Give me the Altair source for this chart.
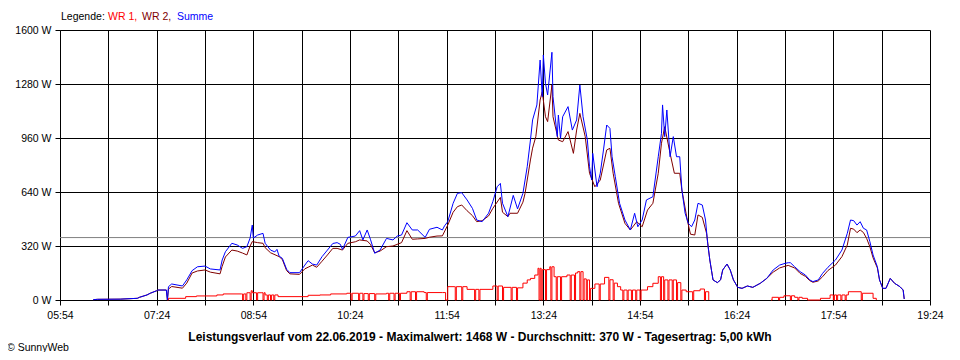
import altair as alt
import pandas as pd

FONT = "Liberation Sans"
X_START = "05:54"
X_END = "19:24"
X_TICK_STEP = 45
X_LABEL_STEP = 90
Y_TICKS = [0, 320, 640, 960, 1280, 1600]
AVERAGE_W = 370
TITLE = "Leistungsverlauf vom 22.06.2019 - Maximalwert: 1468 W - Durchschnitt: 370 W - Tagesertrag: 5,00 kWh"
COPYRIGHT = "© SunnyWeb"
LEGEND_TEXT = ["Legende:", "WR 1,", "WR 2,", "Summe"]
LEGEND_COLORS = ["#000000", "#FF0000", "#800000", "#0000FF"]

# Summe (blue)
SUMME = [("06:25", 2), ("06:29", 4), ("06:50", 5), ("07:06", 10), ("07:08", 16), ("07:15", 30),
         ("07:18", 40), ("07:24", 55), ("07:25", 59), ("07:33", 59), ("07:34", 0), ("07:35", 79),
         ("07:38", 95), ("07:48", 83), ("07:52", 119), ("07:57", 174), ("08:02", 197), ("08:09", 201),
         ("08:14", 184), ("08:23", 178), ("08:25", 237), ("08:28", 286), ("08:34", 336), ("08:39", 326),
         ("08:44", 306), ("08:48", 316), ("08:51", 367), ("08:53", 444), ("08:54", 367), ("08:58", 385),
         ("09:03", 395), ("09:05", 336), ("09:10", 296), ("09:14", 285), ("09:16", 300), ("09:18", 260),
         ("09:21", 247), ("09:25", 182), ("09:28", 162), ("09:37", 162), ("09:42", 207), ("09:45", 233),
         ("09:49", 213), ("09:53", 207), ("09:58", 257), ("10:03", 296), ("10:08", 335), ("10:12", 340),
         ("10:15", 330), ("10:17", 300), ("10:22", 371), ("10:29", 379), ("10:33", 411), ("10:36", 356),
         ("10:40", 415), ("10:43", 360), ("10:47", 277), ("10:52", 296), ("10:58", 365), ("11:04", 356),
         ("11:08", 379), ("11:12", 385), ("11:17", 458), ("11:22", 415), ("11:27", 415), ("11:34", 371),
         ("11:38", 419), ("11:45", 431), ("11:50", 415), ("11:52", 439), ("11:55", 464), ("12:00", 573),
         ("12:04", 632), ("12:08", 636), ("12:13", 593), ("12:18", 543), ("12:22", 474), ("12:27", 464),
         ("12:33", 514), ("12:37", 583), ("12:41", 671), ("12:44", 691), ("12:46", 573), ("12:51", 494),
         ("12:56", 620), ("13:00", 540), ("13:05", 632), ("13:09", 790), ("13:12", 948), ("13:14", 1067),
         ("13:18", 1156), ("13:21", 1422), ("13:23", 1205), ("13:24", 1452), ("13:26", 1284), ("13:28", 1215),
         ("13:32", 1468), ("13:33", 1205), ("13:37", 968), ("13:38", 1096), ("13:40", 958), ("13:42", 1086),
         ("13:47", 1146), ("13:51", 1007), ("13:55", 1067), ("13:58", 1274), ("14:01", 1086), ("14:05", 948),
         ("14:07", 790), ("14:09", 711), ("14:10", 869), ("14:14", 671), ("14:17", 751), ("14:20", 889),
         ("14:23", 1037), ("14:26", 1017), ("14:28", 849), ("14:31", 731), ("14:35", 573), ("14:40", 474),
         ("14:45", 415), ("14:49", 514), ("14:52", 434), ("14:56", 474), ("15:00", 593), ("15:06", 612),
         ("15:11", 849), ("15:14", 988), ("15:15", 1156), ("15:17", 968), ("15:19", 1126), ("15:22", 849),
         ("15:25", 968), ("15:28", 849), ("15:31", 849), ("15:33", 652), ("15:36", 514), ("15:39", 454),
         ("15:42", 434), ("15:45", 474), ("15:48", 573), ("15:52", 563), ("15:55", 474), ("15:57", 336),
         ("15:59", 237), ("16:02", 119), ("16:06", 103), ("16:09", 119), ("16:11", 178), ("16:15", 213),
         ("16:18", 178), ("16:21", 119), ("16:25", 75), ("16:29", 69), ("16:34", 83), ("16:39", 75),
         ("16:46", 99), ("16:52", 128), ("16:58", 178), ("17:04", 207), ("17:09", 217), ("17:12", 221),
         ("17:14", 221), ("17:18", 197), ("17:23", 168), ("17:28", 148), ("17:32", 119), ("17:35", 109),
         ("17:40", 119), ("17:44", 158), ("17:49", 194), ("17:56", 237), ("18:02", 296), ("18:07", 395),
         ("18:10", 474), ("18:13", 470), ("18:16", 444), ("18:19", 464), ("18:22", 425), ("18:25", 415),
         ("18:28", 346), ("18:31", 267), ("18:35", 197), ("18:37", 119), ("18:40", 69), ("18:43", 69),
         ("18:47", 128), ("18:51", 99), ("18:56", 79), ("18:59", 59), ("19:00", 6)]

# WR 2 (dark red)
WR2 = [("06:25", 2), ("06:29", 4), ("06:50", 5), ("07:06", 10), ("07:08", 16), ("07:15", 30),
       ("07:18", 40), ("07:24", 55), ("07:25", 59), ("07:33", 59), ("07:34", 0), ("07:35", 65),
       ("07:38", 80), ("07:48", 70), ("07:52", 100), ("07:57", 160), ("08:02", 172), ("08:09", 178),
       ("08:14", 165), ("08:23", 155), ("08:25", 200), ("08:28", 255), ("08:34", 296), ("08:39", 290),
       ("08:44", 278), ("08:48", 267), ("08:51", 320), ("08:53", 346), ("08:58", 340), ("09:03", 336),
       ("09:05", 310), ("09:10", 280), ("09:18", 257), ("09:21", 240), ("09:25", 174), ("09:28", 155),
       ("09:37", 152), ("09:42", 185), ("09:45", 194), ("09:49", 207), ("09:53", 194), ("09:58", 230),
       ("10:03", 267), ("10:08", 306), ("10:12", 306), ("10:17", 296), ("10:22", 336), ("10:29", 345),
       ("10:33", 356), ("10:40", 350), ("10:43", 330), ("10:47", 280), ("10:52", 290), ("10:58", 316),
       ("11:04", 320), ("11:12", 340), ("11:17", 411), ("11:22", 360), ("11:27", 362), ("11:34", 365),
       ("11:38", 372), ("11:45", 379), ("11:50", 380), ("11:55", 444), ("12:00", 520), ("12:04", 553),
       ("12:08", 563), ("12:13", 529), ("12:18", 500), ("12:22", 464), ("12:27", 470), ("12:33", 498),
       ("12:37", 543), ("12:44", 608), ("12:46", 520), ("12:51", 494), ("12:53", 514), ("13:00", 514),
       ("13:05", 580), ("13:07", 632), ("13:12", 830), ("13:14", 900), ("13:17", 968), ("13:21", 1185),
       ("13:23", 1234), ("13:26", 1086), ("13:28", 1057), ("13:32", 1274), ("13:33", 1086), ("13:38", 948),
       ("13:42", 938), ("13:47", 998), ("13:52", 869), ("13:55", 1007), ("13:58", 1106), ("14:03", 968),
       ("14:07", 751), ("14:12", 671), ("14:17", 711), ("14:23", 889), ("14:26", 899), ("14:29", 751),
       ("14:34", 573), ("14:40", 454), ("14:45", 415), ("14:51", 464), ("14:56", 434), ("15:01", 533),
       ("15:06", 573), ("15:11", 751), ("15:14", 929), ("15:17", 1027), ("15:22", 869), ("15:26", 751),
       ("15:31", 751), ("15:33", 652), ("15:38", 474), ("15:41", 390), ("15:45", 385), ("15:48", 504),
       ("15:52", 490), ("15:56", 395), ("15:59", 237), ("16:02", 119), ("16:06", 103), ("16:09", 119),
       ("16:11", 178), ("16:15", 213), ("16:18", 178), ("16:21", 119), ("16:25", 75), ("16:29", 69),
       ("16:34", 83), ("16:39", 75), ("16:46", 99), ("16:52", 128), ("16:58", 165), ("17:04", 190),
       ("17:09", 200), ("17:12", 205), ("17:18", 190), ("17:23", 158), ("17:28", 140), ("17:32", 115),
       ("17:35", 105), ("17:40", 113), ("17:44", 138), ("17:49", 175), ("17:56", 207), ("18:02", 257),
       ("18:07", 326), ("18:10", 425), ("18:13", 420), ("18:16", 399), ("18:19", 415), ("18:22", 400),
       ("18:25", 365), ("18:28", 316), ("18:31", 250), ("18:35", 190), ("18:37", 119), ("18:40", 69),
       ("18:43", 69), ("18:47", 128), ("18:51", 99), ("18:56", 79), ("18:59", 59), ("19:00", 6)]

# WR 1 (red), morning/afternoon run and evening run
WR1_PART1 = [("07:34", 0), ("07:35", 10), ("07:51", 20), ("08:01", 24), ("08:20", 30), ("08:26", 36),
             ("08:43", 36), ("08:44", 0), ("08:45", 36), ("08:47", 0), ("08:48", 43), ("08:51", 0),
             ("08:52", 55), ("08:53", 43), ("08:57", 0), ("08:58", 43), ("09:02", 43), ("09:03", 0),
             ("09:04", 43), ("09:05", 30), ("09:07", 0), ("09:08", 30), ("09:10", 0), ("09:11", 30),
             ("09:13", 0), ("09:14", 30), ("09:17", 20), ("09:44", 20), ("09:45", 28), ("09:56", 30),
             ("10:06", 36), ("10:21", 40), ("10:25", 0), ("10:26", 40), ("10:32", 0), ("10:33", 40),
             ("10:36", 0), ("10:37", 38), ("10:41", 0), ("10:42", 38), ("10:47", 0), ("10:48", 36),
             ("10:58", 40), ("11:00", 0), ("11:01", 40), ("11:05", 0), ("11:06", 40), ("11:10", 0),
             ("11:11", 40), ("11:17", 49), ("11:20", 0), ("11:21", 49), ("11:25", 0), ("11:26", 49),
             ("11:33", 44), ("11:35", 0), ("11:36", 44), ("11:50", 44), ("11:53", 0), ("11:55", 79),
             ("12:01", 79), ("12:02", 0), ("12:03", 79), ("12:08", 0), ("12:09", 79), ("12:13", 63),
             ("12:20", 0), ("12:21", 63), ("12:24", 0), ("12:25", 63), ("12:37", 83), ("12:41", 0),
             ("12:42", 83), ("12:46", 0), ("12:47", 75), ("12:54", 0), ("12:55", 75), ("12:59", 0),
             ("13:00", 72), ("13:05", 100), ("13:09", 119), ("13:12", 128), ("13:16", 148), ("13:19", 188),
             ("13:20", 0), ("13:21", 188), ("13:22", 0), ("13:23", 180), ("13:26", 0), ("13:27", 180),
             ("13:30", 197), ("13:31", 0), ("13:32", 197), ("13:34", 138), ("13:36", 0), ("13:37", 138),
             ("13:40", 0), ("13:41", 138), ("13:46", 148), ("13:49", 0), ("13:50", 148), ("13:53", 0),
             ("13:54", 160), ("13:56", 168), ("13:58", 0), ("13:59", 168), ("14:01", 0), ("14:02", 125),
             ("14:04", 0), ("14:05", 119), ("14:07", 0), ("14:08", 69), ("14:12", 95), ("14:16", 0),
             ("14:17", 95), ("14:21", 134), ("14:25", 0), ("14:26", 120), ("14:29", 0), ("14:30", 100),
             ("14:33", 79), ("14:36", 59), ("14:38", 0), ("14:39", 59), ("14:42", 0), ("14:43", 59),
             ("14:46", 0), ("14:47", 59), ("14:50", 0), ("14:51", 59), ("14:54", 0), ("14:55", 59),
             ("15:01", 79), ("15:06", 99), ("15:11", 138), ("15:13", 0), ("15:14", 138), ("15:16", 0),
             ("15:17", 119), ("15:20", 0), ("15:21", 119), ("15:24", 0), ("15:25", 119), ("15:28", 0),
             ("15:29", 103), ("15:32", 0), ("15:33", 59), ("15:37", 49), ("15:43", 0), ("15:44", 55),
             ("15:50", 65), ("15:54", 0), ("15:55", 49), ("15:58", 0)]
WR1_PART2 = [("16:56", 0), ("16:57", 16), ("17:03", 0), ("17:04", 16), ("17:08", 25), ("17:14", 0),
             ("17:15", 25), ("17:18", 16), ("17:21", 0), ("17:22", 16), ("17:25", 10), ("17:30", 0),
             ("17:41", 0), ("17:42", 10), ("17:51", 30), ("17:54", 0), ("17:55", 30), ("17:57", 0),
             ("17:58", 30), ("18:01", 0), ("18:02", 30), ("18:05", 0), ("18:06", 30), ("18:08", 49),
             ("18:20", 0), ("18:21", 40), ("18:30", 40), ("18:31", 10), ("18:34", 0)]


def to_min(s):
    h, m = s.split(":")
    return int(h) * 60 + int(m)


def frame(points, seg=0):
    return pd.DataFrame({"t": [to_min(a) for a, _ in points],
                         "v": [b for _, b in points],
                         "seg": seg})


df_sum = frame(SUMME)
df_sum["i"] = range(len(df_sum))
df_wr2 = frame(WR2)
df_wr2["i"] = range(len(df_wr2))
df_wr1 = pd.concat([frame(WR1_PART1, 1), frame(WR1_PART2, 2)], ignore_index=True)
df_wr1["i"] = range(len(df_wr1))

t0, t1 = to_min(X_START), to_min(X_END)
x_ticks = list(range(t0, t1 + 1, X_TICK_STEP))

label_expr = (
    f"(datum.value - {t0}) % {X_LABEL_STEP} == 0 ? "
    "(floor(datum.value / 60) < 10 ? '0' : '') + floor(datum.value / 60) + ':' + "
    "(datum.value % 60 < 10 ? '0' : '') + (datum.value % 60) : ''"
)

common_axis = dict(grid=True, gridColor="black", gridWidth=1, gridOpacity=1,
                   domainColor="black", domainWidth=1, tickColor="black", tickSize=5,
                   labelFont=FONT, labelFontSize=10.5, labelColor="black",
                   title=None, labelOverlap=False, labelFlush=False)

X = alt.X("t:Q", scale=alt.Scale(domain=[t0, t1], nice=False, zero=False),
          axis=alt.Axis(values=x_ticks, labelExpr=label_expr, labelPadding=5, **common_axis))
Y = alt.Y("v:Q", scale=alt.Scale(domain=[Y_TICKS[0], Y_TICKS[-1]], nice=False),
          axis=alt.Axis(values=Y_TICKS, labelExpr="datum.value + ' W'", labelPadding=4, **common_axis))

avg = alt.Chart(pd.DataFrame({"v": [AVERAGE_W]})).mark_rule(
    color="#808080", strokeWidth=1).encode(y=Y)

wr1 = alt.Chart(df_wr1).mark_line(color="#FF0000", strokeWidth=1, interpolate="step-after").encode(
    x=X, y=Y, detail="seg:N", order="i:Q")
wr2 = alt.Chart(df_wr2).mark_line(color="#800000", strokeWidth=1).encode(x=X, y=Y, order="i:Q")
summe = alt.Chart(df_sum).mark_line(color="#0000FF", strokeWidth=1).encode(x=X, y=Y, order="i:Q")

legend_x = [1, 48, 82, 117]
texts = []
for txt, col, lx in zip(LEGEND_TEXT, LEGEND_COLORS, legend_x):
    texts.append(alt.Chart(pd.DataFrame({"label": [txt]})).mark_text(
        font=FONT, fontSize=10.5, color=col, align="left", baseline="middle").encode(
        x=alt.value(lx), y=alt.value(-13), text="label:N"))

texts.append(alt.Chart(pd.DataFrame({"label": [TITLE]})).mark_text(
    font=FONT, fontSize=12, fontWeight="bold", color="black", align="center", baseline="middle").encode(
    x=alt.value(420), y=alt.value(307), text="label:N"))
texts.append(alt.Chart(pd.DataFrame({"label": [COPYRIGHT]})).mark_text(
    font=FONT, fontSize=10.5, color="black", align="left", baseline="middle").encode(
    x=alt.value(-53), y=alt.value(318), text="label:N"))

chart = alt.layer(avg, wr1, wr2, summe, *texts).properties(
    width=870, height=270,
    padding={"left": 52, "top": 22, "right": 20, "bottom": 52},
    autosize=alt.AutoSizeParams(type="none"),
    background="white",
).configure_view(stroke=None)

chart.save("out.html", embed_options={"renderer": "svg", "actions": False})
